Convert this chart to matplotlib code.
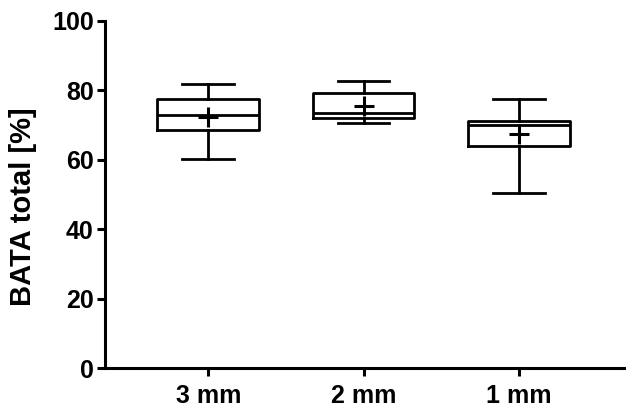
import matplotlib.pyplot as plt

plt.rcParams['font.family'] = ['Liberation Sans', 'DejaVu Sans']
plt.rcParams['font.weight'] = 'bold'

groups = ["3 mm", "2 mm", "1 mm"]
whisker_low = [60.2, 70.7, 50.4]
q1 = [68.5, 72.1, 64.0]
median = [72.8, 73.5, 70.0]
q3 = [77.5, 79.1, 71.1]
whisker_high = [81.7, 82.6, 77.4]
mean = [72.2, 75.6, 67.4]

stats = []
for i in range(len(groups)):
    stats.append({
        "label": groups[i],
        "whislo": whisker_low[i],
        "q1": q1[i],
        "med": median[i],
        "q3": q3[i],
        "whishi": whisker_high[i],
        "mean": mean[i],
        "fliers": [],
    })

fig = plt.figure(figsize=(6.26, 4.11), dpi=100)
ax = fig.add_axes([0.1677, 0.1039, 0.8323, 0.8457])

lw = 2.0
ax.bxp(stats, positions=[1, 2, 3], widths=0.656, capwidths=0.334,
       showmeans=True, showfliers=False,
       boxprops=dict(color="black", linewidth=lw),
       medianprops=dict(color="black", linewidth=lw),
       whiskerprops=dict(color="black", linewidth=lw),
       capprops=dict(color="black", linewidth=lw),
       meanprops=dict(marker="+", markersize=14, markeredgewidth=2.2,
                      markeredgecolor="black"))

ax.set_xlim(0.335, 3.69)
ax.set_ylim(0, 100)
ax.set_yticks([0, 20, 40, 60, 80, 100])
ax.set_ylabel("BATA total [%]", fontsize=21, fontweight="bold")
ax.yaxis.set_label_coords(-0.13, 0.465)

for s in ["top", "right"]:
    ax.spines[s].set_visible(False)
for s in ["left", "bottom"]:
    ax.spines[s].set_linewidth(2.2)
ax.tick_params(axis="both", width=2.2, length=6, labelsize=18)
ax.tick_params(axis="y", pad=2)
ax.tick_params(axis="x", pad=5)

fig.savefig("out.png", dpi=100)
